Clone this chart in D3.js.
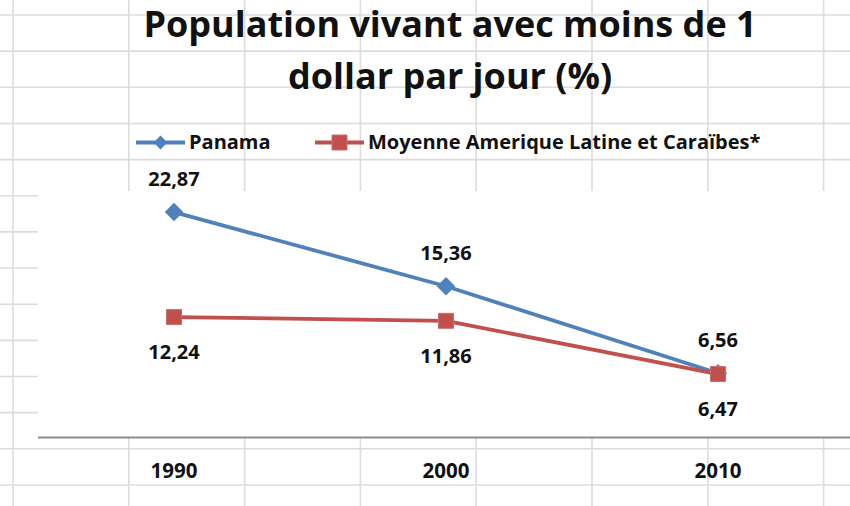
<!DOCTYPE html>
<html>
<head>
<meta charset="utf-8">
<script src="https://cdn.jsdelivr.net/npm/d3@7"></script>
<style>
  body { margin: 0; background: #fff; }
  svg { display: block; font-family: "Open Sans", Lato, sans-serif; }
</style>
</head>
<body>
<svg id="chart" width="850" height="506"></svg>
<script>
// données
const years = ["1990", "2000", "2010"];
const panama = [22.87, 15.36, 6.56];
const moyenne = [12.24, 11.86, 6.47];
const seriesNames = ["Panama", "Moyenne Amerique Latine et Caraïbes*"];
const titleLines = ["Population vivant avec moins de 1", "dollar par jour (%)"];

const fmt = v => d3.format(".2f")(v).replace(".", ",");

const svg = d3.select("#chart");
const W = 850, H = 506;

// fond : grille de tableur
const gridRows = d3.range(15, H, 36.15);
const gridCols = d3.range(13, W, 115.8);
const plot = { left: 38, right: 854, top: 191, bottom: 438 };

const bg = svg.append("g").attr("stroke", "#dcdcdc").attr("stroke-width", 1.6);
bg.selectAll("line.r").data(gridRows).enter().append("line")
    .attr("x1", 0).attr("x2", W).attr("y1", d => d).attr("y2", d => d);
bg.selectAll("line.c").data(gridCols).enter().append("line")
    .attr("y1", 0).attr("y2", H).attr("x1", d => d).attr("x2", d => d);

// zone de traçage blanche
svg.append("rect")
    .attr("x", plot.left).attr("y", plot.top)
    .attr("width", W - plot.left).attr("height", plot.bottom - plot.top - 1)
    .attr("fill", "#fff");

// échelles
const x = d3.scaleBand().domain(years).range([plot.left, plot.right]);
const cx = d => x(d) + x.bandwidth() / 2;
const y = d3.scaleLinear().domain([0, 25]).range([plot.bottom, plot.top]);

// axe horizontal
svg.append("line")
    .attr("x1", plot.left).attr("x2", W)
    .attr("y1", plot.bottom - 0.5).attr("y2", plot.bottom - 0.5)
    .attr("stroke", "#8c8c8c").attr("stroke-width", 2);

svg.append("g")
    .selectAll("text")
    .data(years)
    .enter()
    .append("text")
    .attr("x", d => cx(d))
    .attr("y", 478)
    .attr("text-anchor", "middle")
    .attr("font-weight", "bold")
    .attr("font-size", 20.5)
    .attr("fill", "#111")
    .text(d => d);

// titre
svg.append("g")
    .selectAll("text")
    .data(titleLines)
    .enter()
    .append("text")
    .attr("x", 450)
    .attr("y", (d, i) => 37 + i * 52)
    .attr("text-anchor", "middle")
    .attr("font-weight", "bold")
    .attr("font-size", 36)
    .attr("fill", "#111")
    .text(d => d);

// séries
const series = [
    { name: seriesNames[0], values: panama, color: "#4F81BD", shape: "diamond", labelDy: -26 },
    { name: seriesNames[1], values: moyenne, color: "#C0504D", shape: "square", labelDy: 42 }
];

const line = d3.line().x((d, i) => cx(years[i])).y(d => y(d));

function marker(sel, shape, color, scale) {
    const k = scale || 1;
    if (shape === "diamond") {
        sel.append("path")
            .attr("d", d3.symbol(d3.symbolSquare, 170 * k * k))
            .attr("transform", "rotate(45)")
            .attr("fill", color);
    } else {
        sel.append("path")
            .attr("d", d3.symbol(d3.symbolSquare, 225 * k * k))
            .attr("fill", color)
            .attr("stroke", "#d06b68")
            .attr("stroke-width", 1);
    }
}

series.forEach(s => {
    const g = svg.append("g");
    g.append("path")
        .datum(s.values)
        .attr("d", line)
        .attr("fill", "none")
        .attr("stroke", s.color)
        .attr("stroke-width", 3.8)
        .attr("stroke-linejoin", "round");

    g.selectAll("g.pt")
        .data(s.values)
        .enter()
        .append("g")
        .attr("transform", (d, i) => `translate(${cx(years[i])},${y(d)})`)
        .each(function () { marker(d3.select(this), s.shape, s.color); });

    g.selectAll("text")
        .data(s.values)
        .enter()
        .append("text")
        .attr("x", (d, i) => cx(years[i]))
        .attr("y", d => y(d) + s.labelDy)
        .attr("text-anchor", "middle")
        .attr("font-weight", "bold")
        .attr("font-size", 20)
        .attr("fill", "#111")
        .text(d => fmt(d));
});

// légende
const legendX = [136, 315];
const leg = svg.append("g").attr("transform", "translate(0,142.5)");
series.forEach((s, i) => {
    const g = leg.append("g").attr("transform", `translate(${legendX[i]},0)`);
    g.append("line")
        .attr("x1", 0).attr("x2", 49)
        .attr("stroke", s.color).attr("stroke-width", 3.8);
    const m = g.append("g").attr("transform", "translate(24.5,0)");
    marker(m, s.shape, s.color, s.shape === "diamond" ? 0.75 : 1);
    g.append("text")
        .attr("x", 53)
        .attr("y", 6.5)
        .attr("font-weight", "bold")
        .attr("font-size", 20)
        .attr("fill", "#111")
        .text(s.name);
});
</script>
</body>
</html>
